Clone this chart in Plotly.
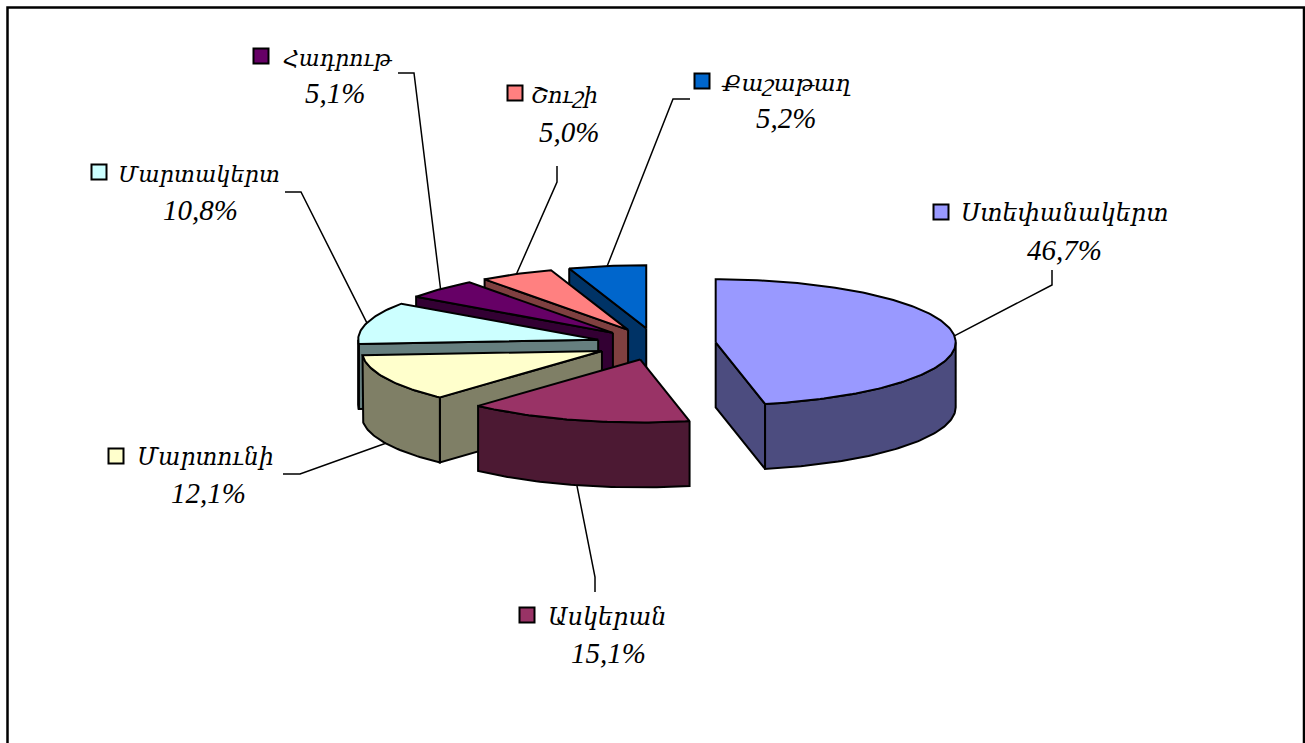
import numpy as np
import plotly.graph_objects as go

# ---- data ----
names = ["Ստեփանակերտ", "Ասկերան", "Մարտունի", "Մարտակերտ", "Հադրութ", "Շուշի", "Քաշաթաղ"]
values = [46.7, 15.1, 12.1, 10.8, 5.1, 5.0, 5.2]
colors = ["#9999FF", "#993366", "#FFFFCC", "#CCFFFF", "#660066", "#FF8080", "#0066CC"]

# ---- layout constants (pixels) ----
W, H = 1305, 743
CX, CY = 656, 344
RX, RY = 240, 63
DEPTH = 65
EXPLODE_X = 60
EXPLODE_Y = 16
FONT = "Liberation Serif, DejaVu Serif, serif"
NAME_SIZE = [24, 24, 23.5, 22.5, 22, 22.5, 23]
PCT_SIZE = 29
name_pos = [(1065, 213), (607, 617), (205, 457), (199, 174), (338, 58), (564, 95), (786, 83)]
pct_pos = [(1064, 250), (608, 653), (208, 493), (200, 210), (335, 93), (569, 132), (786, 118)]
key_pos = [(941, 212), (527, 615), (116, 456), (99, 172), (261, 56), (515, 93), (702, 81)]
elbow = [
    [(1052, 270), (1052, 285)],
    [(595, 592), (595, 577)],
    [(283, 474), (300, 474)],
    [(285, 192), (301, 192)],
    [(398, 73), (414, 73)],
    [(557, 166), (557, 182)],
    [(690, 99), (673, 99)],
]
DRAW_ORDER = [6, 5, 4, 3, 2, 1, 0]


def darker(hex_color):
    r, g, b = [int(hex_color[i:i + 2], 16) for i in (1, 3, 5)]
    return f"rgb({r // 2},{g // 2},{b // 2})"


def rim(ax, ay, a0, a1, drop=0.0):
    n = max(2, int(abs(a1 - a0)) + 2)
    t = np.radians(np.linspace(a0, a1, n))
    return ax + RX * np.sin(t), ay - RY * np.cos(t) + drop


total = sum(values)
edges = np.concatenate([[0.0], np.cumsum(values) / total * 360.0])
fig = go.Figure()


def poly(xs, ys, fill):
    fig.add_trace(go.Scatter(
        x=list(xs), y=list(ys), mode="lines", fill="toself", fillcolor=fill,
        line=dict(color="#000000", width=2), hoverinfo="skip", showlegend=False))


apex = {}
for i in DRAW_ORDER:
    a0, a1 = edges[i], edges[i + 1]
    mid = np.radians((a0 + a1) / 2)
    ax = CX + EXPLODE_X * np.sin(mid)
    ay = CY - EXPLODE_Y * np.cos(mid)
    apex[i] = (ax, ay)
    side = darker(colors[i])
    # radial side faces that look toward the viewer
    for ang, visible in ((a0, np.sin(np.radians(a0)) < -1e-6), (a1, np.sin(np.radians(a1)) > 1e-6)):
        if visible:
            ex, ey = rim(ax, ay, ang, ang)
            ex, ey = ex[0], ey[0]
            poly([ax, ex, ex, ax, ax], [ay, ey, ey + DEPTH, ay + DEPTH, ay], side)
    # outer wall, front half only
    lo, hi = max(a0, 90.0), min(a1, 270.0)
    if hi > lo:
        x1, y1 = rim(ax, ay, lo, hi)
        x2, y2 = rim(ax, ay, hi, lo, DEPTH)
        poly(np.r_[x1, x2, x1[0]], np.r_[y1, y2, y1[0]], side)
    # top
    xt, yt = rim(ax, ay, a0, a1)
    poly(np.r_[ax, xt, ax], np.r_[ay, yt, ay], colors[i])

# leader lines: from label elbow to the slice's outer edge at its middle angle
for i in range(len(values)):
    a = (edges[i] + edges[i + 1]) / 2
    ax, ay = apex[i]
    ex, ey = rim(ax, ay, a, a, DEPTH if 90 < a < 270 else 0)
    px = [p[0] for p in elbow[i]] + [ex[0]]
    py = [p[1] for p in elbow[i]] + [ey[0]]
    fig.add_trace(go.Scatter(x=px, y=py, mode="lines", line=dict(color="#000000", width=1.5),
                             hoverinfo="skip", showlegend=False))

# label keys and text
for i, n in enumerate(names):
    fig.add_trace(go.Scatter(
        x=[key_pos[i][0]], y=[key_pos[i][1]], mode="markers",
        marker=dict(symbol="square", size=15, color=colors[i], line=dict(color="#000000", width=2)),
        hoverinfo="skip", showlegend=False))
    fig.add_annotation(x=name_pos[i][0], y=name_pos[i][1], text=f"<i>{n}</i>", showarrow=False,
                       font=dict(family=FONT, size=NAME_SIZE[i], color="#000000"))
    fig.add_annotation(x=pct_pos[i][0], y=pct_pos[i][1],
                       text="<i>" + f"{values[i]:.1f}".replace(".", ",") + "%</i>", showarrow=False,
                       font=dict(family=FONT, size=PCT_SIZE, color="#000000"))

fig.add_shape(type="rect", x0=7.5, y0=7.5, x1=1304, y1=780, line=dict(color="#000000", width=2.5),
              fillcolor="rgba(0,0,0,0)", layer="below")

fig.update_layout(
    width=W, height=H, margin=dict(l=0, r=0, t=0, b=0),
    paper_bgcolor="#FFFFFF", plot_bgcolor="#FFFFFF", showlegend=False,
    xaxis=dict(range=[0, W], visible=False, fixedrange=True),
    yaxis=dict(range=[H, 0], visible=False, fixedrange=True),
)
fig.write_html("out.html", config=dict(displayModeBar=False),
               post_script="document.body.style.margin='0';document.body.style.overflow='hidden';")
